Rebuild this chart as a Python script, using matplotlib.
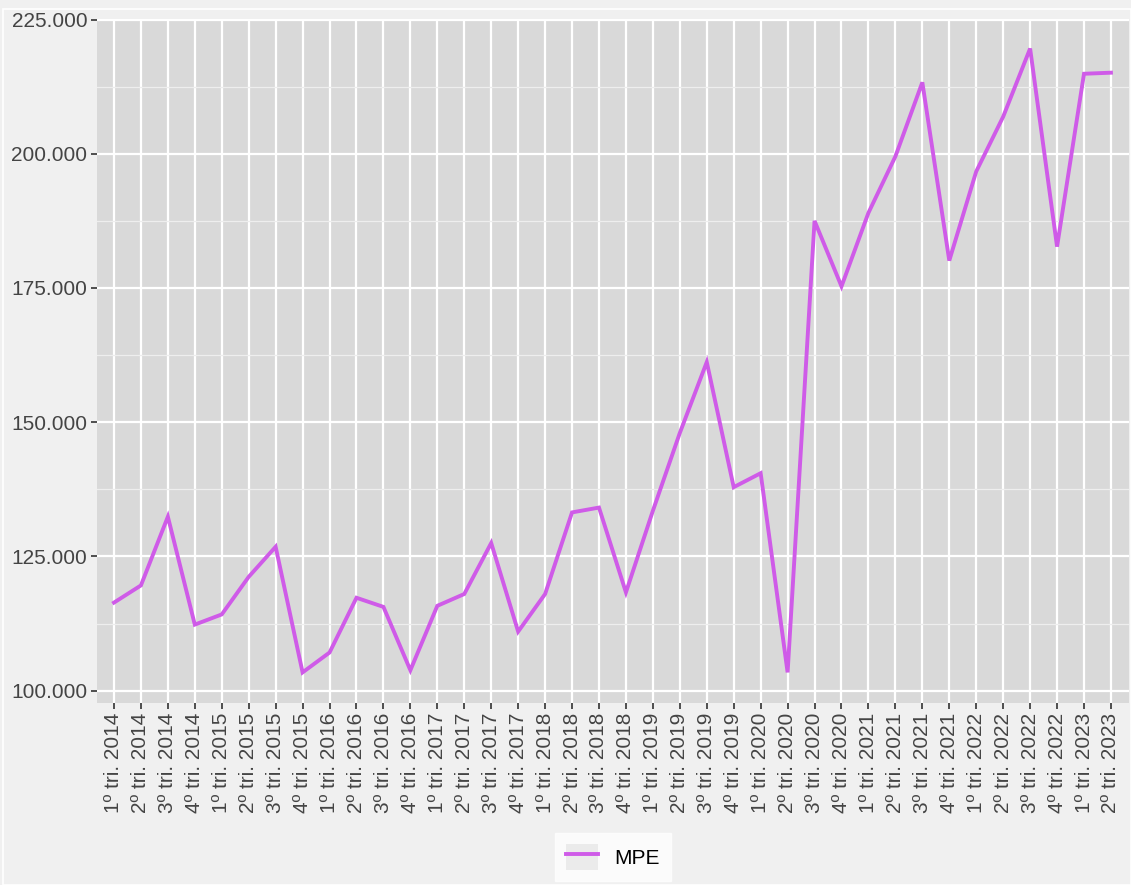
import matplotlib.pyplot as plt
from matplotlib.patches import Rectangle, Patch
from matplotlib.legend_handler import HandlerTuple
from matplotlib.ticker import FuncFormatter, MultipleLocator

# --- data -----------------------------------------------------
quarters = ["1º", "2º", "3º", "4º"]
years = [2014, 2015, 2016, 2017, 2018, 2019, 2020, 2021, 2022, 2023]
labels = [f"{q} tri. {y}" for y in years for q in quarters][:38]

mpe = [116400, 119600, 132400, 112300, 114200, 121200, 126800, 103400,
       107100, 117300, 115600, 103800, 115800, 118000, 127500, 111000,
       118000, 133200, 134100, 118300, 133500, 148000, 161200, 137900,
       140500, 103400, 187500, 175300, 189000, 199500, 213300, 180100,
       196700, 206900, 219600, 182700, 214900, 215100]

# --- style ----------------------------------------------------
plt.rcParams['font.family'] = ['Liberation Sans', 'DejaVu Sans']
bg = '#F0F0F0'
panel = '#D9D9D9'
line_c = '#CF5BE8'
txt = '#444444'

fig = plt.figure(figsize=(11.31, 8.85), dpi=100, facecolor=bg)
fig.patches.append(Rectangle((3 / 1131, 0), 1 - 3 / 1131, 1 - 9 / 885,
                             transform=fig.transFigure, fill=False,
                             edgecolor='white', linewidth=1.2))
ax = fig.add_axes([97 / 1131, 1 - 703 / 885, 1032 / 1131, 684 / 885])
ax.set_facecolor(panel)

x = list(range(len(labels)))
line, = ax.plot(x, mpe, color=line_c, linewidth=2.8, solid_joinstyle='miter',
                zorder=3)

ax.set_xlim(-0.63, len(labels) - 1 + 0.67)
ax.set_ylim(97700, 225100)
ax.yaxis.set_major_locator(MultipleLocator(25000))
ax.yaxis.set_minor_locator(MultipleLocator(12500))
ax.yaxis.set_major_formatter(FuncFormatter(lambda v, p: f"{v:,.0f}".replace(",", ".")))
ax.set_xticks(x)
ax.set_xticklabels(labels, rotation=90)

ax.grid(True, which='major', color='white', linewidth=1.6)
ax.grid(True, which='minor', axis='y', color='#EEEEEE', linewidth=0.9)
ax.set_axisbelow(True)
for s in ax.spines.values():
    s.set_visible(False)
ax.tick_params(axis='both', which='major', length=4, width=1.2, color='#333333',
               labelcolor=txt, labelsize=15, pad=3)
ax.tick_params(axis='y', which='minor', length=0)

# legend key: grey square behind the line, as ggplot draws it
key_bg = Patch(facecolor='#EBEBEB', edgecolor='none')
leg = fig.legend([(key_bg, line)], ['MPE'], loc='center',
                 bbox_to_anchor=(613 / 1131, 1 - 857 / 885),
                 handler_map={tuple: HandlerTuple(ndivide=1, pad=0)},
                 frameon=True, fontsize=15, handlelength=1.5, handleheight=1.5,
                 borderpad=0.55, handletextpad=0.8, fancybox=False)
leg.get_frame().set_facecolor('white')
leg.get_frame().set_edgecolor('white')
for t in leg.get_texts():
    t.set_color('black')

fig.savefig('out.png', dpi=100, facecolor=bg)
